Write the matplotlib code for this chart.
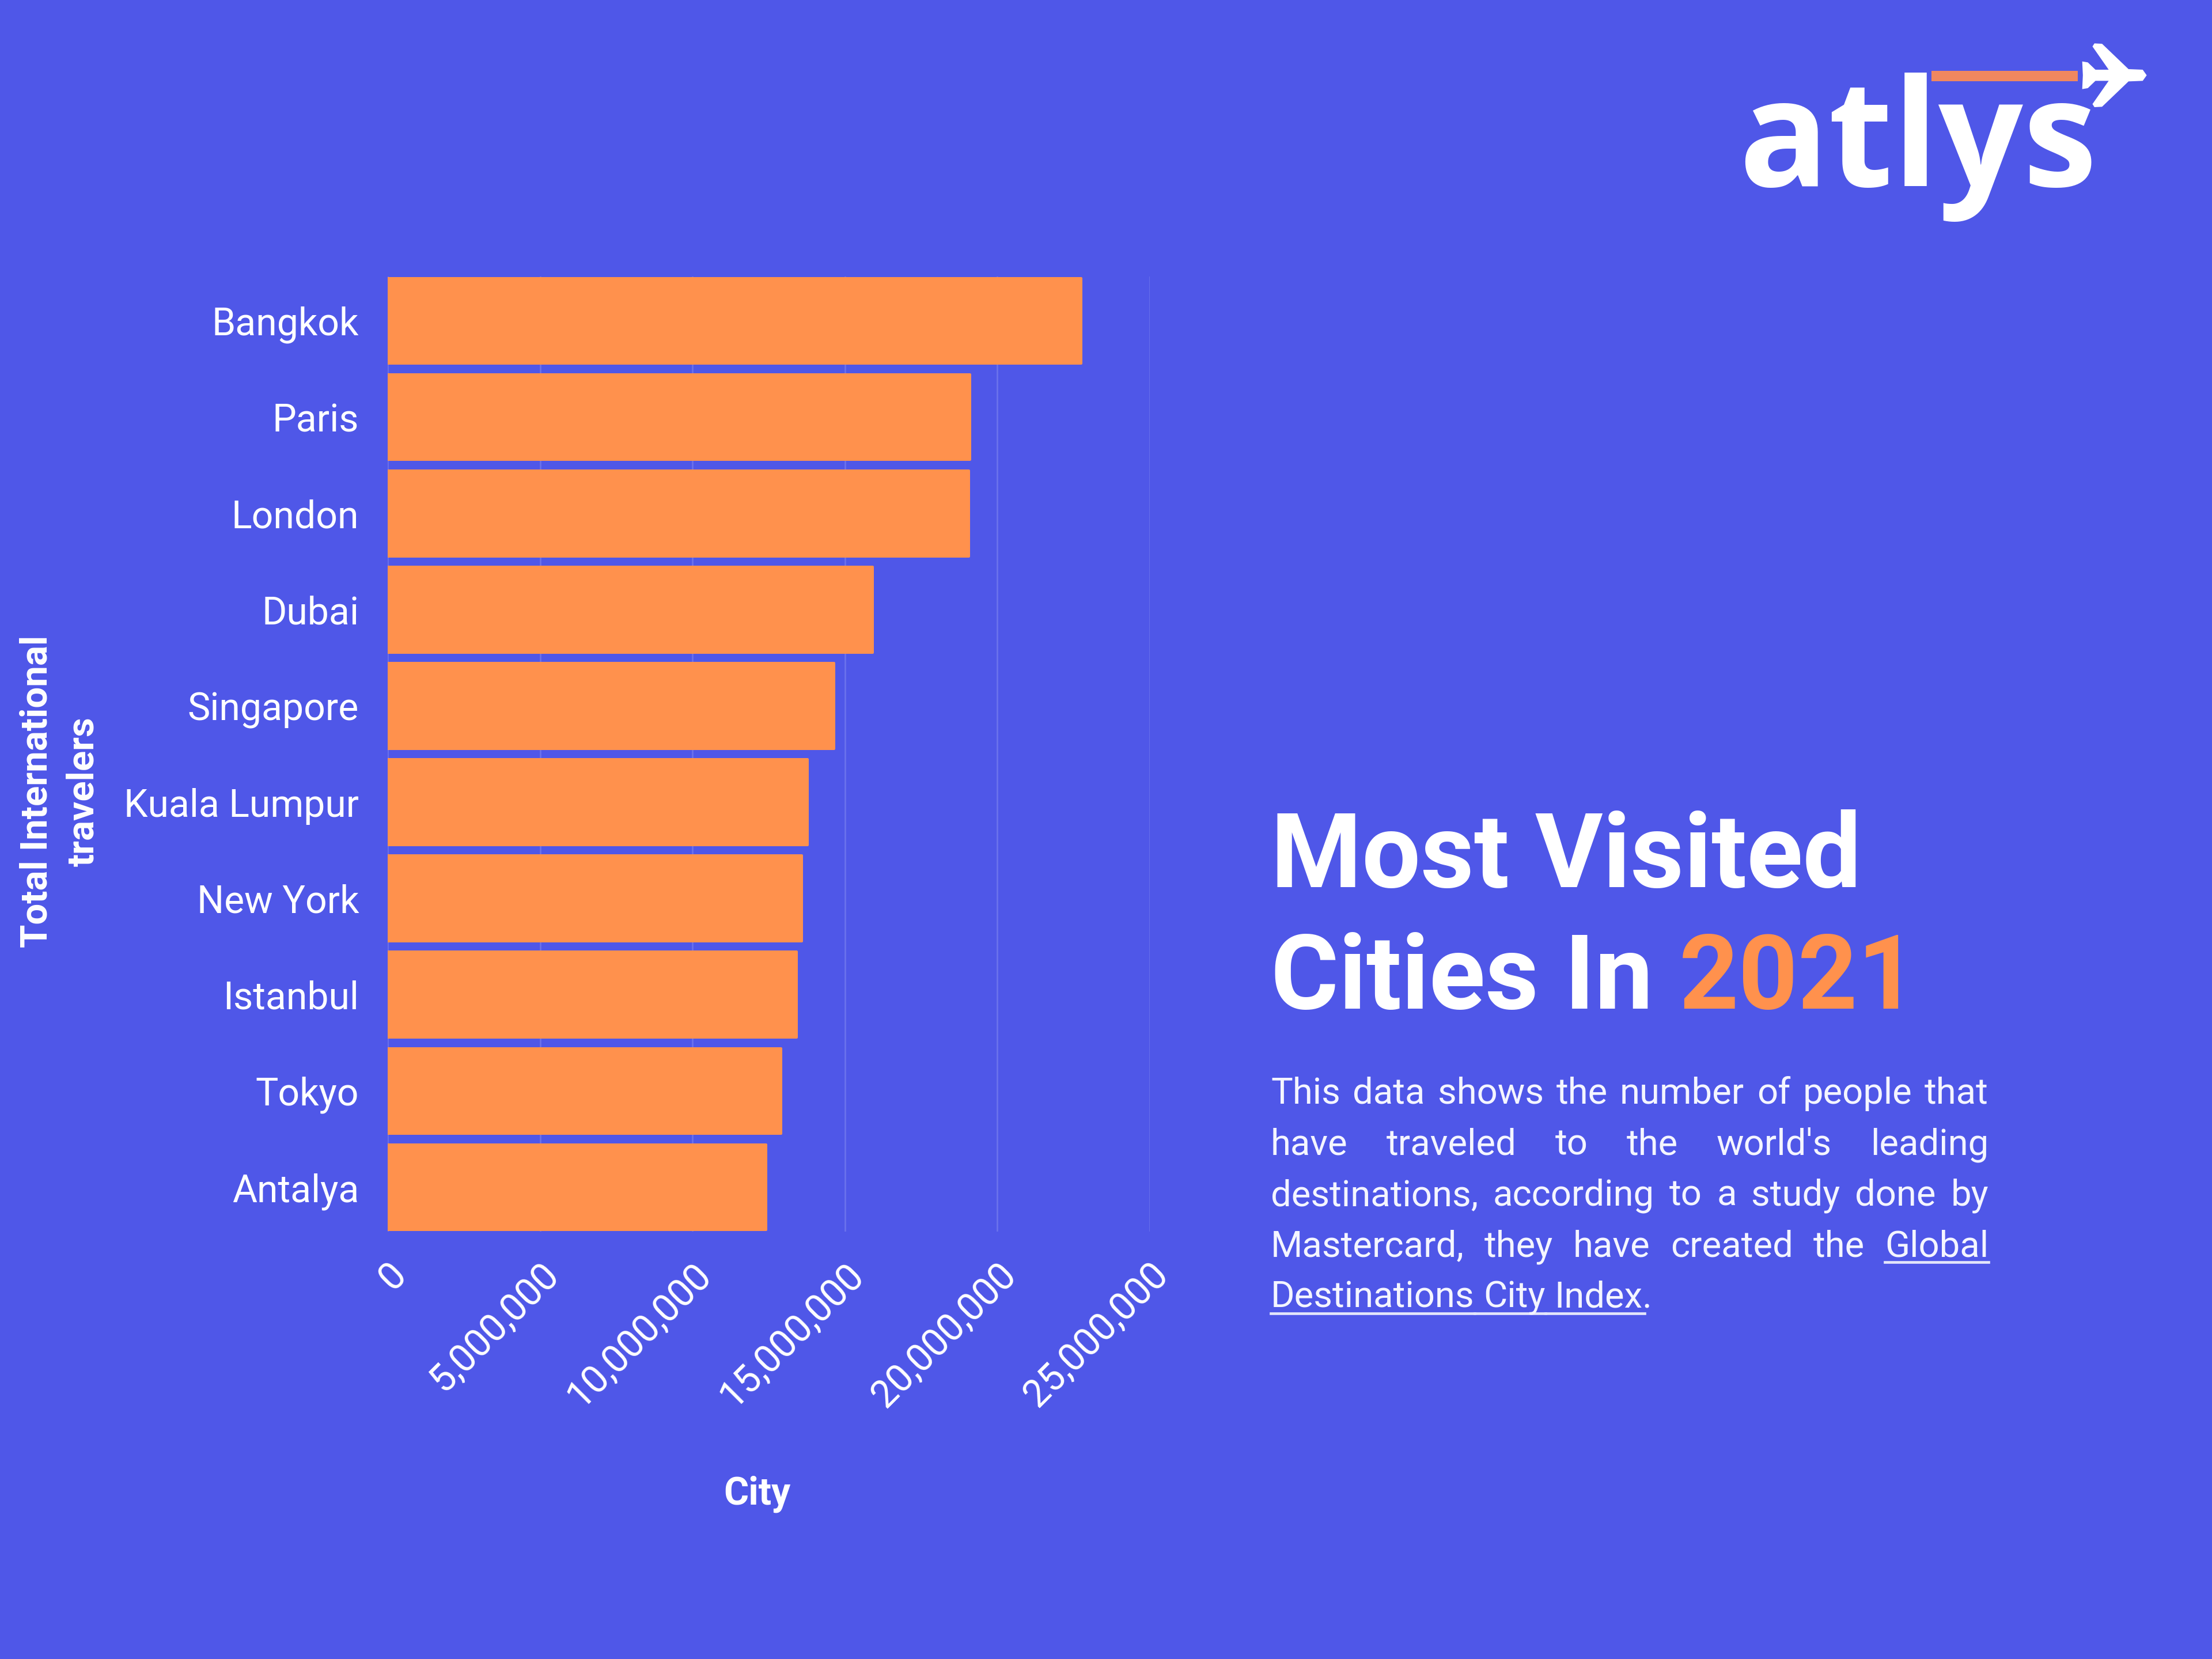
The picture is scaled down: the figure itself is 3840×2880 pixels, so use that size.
import matplotlib
matplotlib.use("Agg")
import matplotlib.pyplot as plt
from matplotlib.patches import Polygon, Rectangle
from matplotlib.lines import Line2D

plt.rcParams['font.family'] = ['Roboto', 'DejaVu Sans']

cities = ["Bangkok", "Paris", "London", "Dubai", "Singapore", "Kuala Lumpur",
          "New York", "Istanbul", "Tokyo", "Antalya"]
travelers = [22760000, 19100000, 19070000, 15910000, 14650000, 13780000,
             13580000, 13410000, 12900000, 12410000]
xticks = [0, 5000000, 10000000, 15000000, 20000000, 25000000]

bg = "#4F57E8"
orange = "#FF914D"

fig = plt.figure(figsize=(16, 12), dpi=240, facecolor=bg)

# overlay in pixel coords of the 3840x2880 picture, for logo and text block
over = fig.add_axes([0, 0, 1, 1], zorder=0)
over.set_xlim(0, 3840)
over.set_ylim(2880, 0)
over.axis("off")

# chart
ax = fig.add_axes([673 / 3840, 1 - 2138 / 2880, (1996 - 673) / 3840, (2138 - 480) / 2880], zorder=1)
ax.patch.set_alpha(0)
ax.barh(range(len(cities)), travelers, height=0.89, color=orange, edgecolor=orange,
        linewidth=1.2, joinstyle="round", zorder=3)
ax.set_xlim(0, 25000000)
ax.set_ylim(len(cities) - 1 + 0.46, -0.46)
ax.set_yticks(range(len(cities)))
ax.set_yticklabels(cities, fontsize=19.85, color="white")
ax.set_xticks(xticks)
ax.set_xticklabels([f"{v:,}" for v in xticks], fontsize=19.85, color="white",
                   rotation=45, ha="right", rotation_mode="anchor")
ax.tick_params(axis="y", length=0, pad=15)
ax.tick_params(axis="x", length=0, pad=13)
for s in ax.spines.values():
    s.set_visible(False)
ax.grid(axis="x", color="#6B72EC", lw=0.8, zorder=1)
ax.set_axisbelow(True)

ax.set_xlabel("City", fontsize=19.85, fontweight="bold", color="white")
ax.xaxis.set_label_coords(0.485, -0.275)
ax.xaxis.label.set_verticalalignment("center")
ax.set_ylabel("Total International\ntravelers", fontsize=19.6, fontweight="bold", color="white",
              linespacing=1.4)
ax.yaxis.set_label_coords(-0.43, 0.461)
ax.yaxis.label.set_verticalalignment("center")

# title
renderer = fig.canvas.get_renderer()
TITLE = 54.1
over.text(2206, 1491, "Most Visited", fontsize=TITLE, fontweight="bold", color="white",
          va="center", ha="left")
over.text(2206, 1702, "Cities In ", fontsize=TITLE, fontweight="bold", color="white",
          va="center", ha="left")
pre = over.text(0, 0, "Cities In\u00a0", fontsize=TITLE, fontweight="bold", alpha=0)
w = pre.get_window_extent(renderer).width
pre.remove()
over.text(2206 + w, 1702, "2021", fontsize=TITLE, fontweight="bold", color=orange,
          va="center", ha="left")


# body, justified word by word
def space_w(fs):
    a = over.text(0, 0, "a a", fontsize=fs, alpha=0)
    b = over.text(0, 0, "aa", fontsize=fs, alpha=0)
    d = a.get_window_extent(renderer).width - b.get_window_extent(renderer).width
    a.remove()
    b.remove()
    return d


body = [
    ("This data shows the number of people that", True, []),
    ("have traveled to the world's leading", True, []),
    ("destinations, according to a study done by", True, []),
    ("Mastercard, they have created the Global", True, ["Global"]),
    ("Destinations City Index.", False, ["Destinations", "City", "Index"]),
]
BODY = 19.0
left, right = 2206, 3452
base_y = 1916
step = 88.4
for n, (line, just, links) in enumerate(body):
    words = line.split(" ")
    y = base_y + n * step
    arts = [over.text(0, y, wd, fontsize=BODY, color="#F4F5FF", va="baseline", ha="left") for wd in words]
    widths = [a.get_window_extent(renderer).width for a in arts]
    gap = (right - left - sum(widths)) / (len(words) - 1) if just else space_w(BODY)
    x = left
    prev_link = False
    for wd, a, wid in zip(words, arts, widths):
        a.set_x(x)
        clean = wd.rstrip(".")
        if clean in links:
            end = x + wid
            if wd.endswith("."):
                end -= 14
            start = x - gap if prev_link else x
            over.add_line(Line2D([start, end], [y + 10, y + 10], color="#E4E6FB", lw=1.4))
            prev_link = True
        x += wid + gap

# logo
over.text(3018, 323, "atlys", fontsize=77.5, fontweight="bold", family="Open Sans",
          color="white", ha="left", va="baseline")
over.add_patch(Rectangle((3353, 123), 254, 18, color="#F0875F", lw=0))
half = [(1440, 272), (1428, 243), (1385, 240), (1305, 108), (1282, 106), (1276, 122),
        (1325, 243), (1285, 243), (1262, 205), (1245, 200), (1247, 272)]
half = half + [(x, 2 * 272 - y) for x, y in half[-2:0:-1]]
over.add_patch(Polygon([(2900 + x / 1.742, 40 + y / 3) for x, y in half],
                       closed=True, color="white", lw=0))

fig.savefig("out.png", dpi=240, facecolor=bg)
